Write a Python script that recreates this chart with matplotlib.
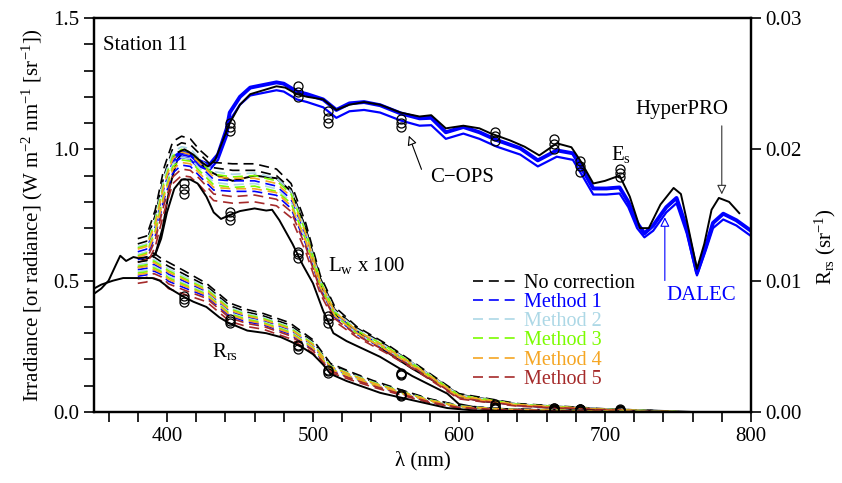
import matplotlib
matplotlib.use("Agg")
import matplotlib.pyplot as plt
from matplotlib.ticker import MultipleLocator

plt.rcParams['font.family'] = ['Liberation Serif', 'DejaVu Serif']
plt.rcParams['mathtext.fontset'] = 'custom'
plt.rcParams['mathtext.rm'] = 'Liberation Serif'
plt.rcParams['mathtext.it'] = 'Liberation Serif:italic'
plt.rcParams['mathtext.default'] = 'rm'

# ---- Es (W m-2 nm-1) ----
hyper_es_wl = [408, 412, 418, 424, 428, 433, 438, 443, 450, 457, 466, 475, 481, 489, 496,
               507, 516, 525, 535, 546, 560, 573, 581, 591, 603, 614, 622, 635, 645, 655,
               667, 677, 683, 692, 700, 710, 717, 724, 730, 738, 747, 752, 756, 763, 768,
               773, 778, 785, 792]
hyper_es = [0.99, 1.0, 0.98, 0.95, 0.935, 0.96, 1.03, 1.10, 1.17, 1.21, 1.225, 1.24, 1.235, 1.21, 1.20,
            1.19, 1.15, 1.17, 1.18, 1.17, 1.14, 1.125, 1.13, 1.08, 1.09, 1.08, 1.06, 1.034, 1.01, 0.977,
            1.023, 1.008, 0.958, 0.87, 0.88, 0.90, 0.82, 0.70, 0.70, 0.79, 0.853, 0.83, 0.73, 0.545, 0.64,
            0.77, 0.815, 0.80, 0.757]

dalec_es_wl = [405, 410, 415, 420, 429, 435, 441, 443, 450, 457, 466, 475, 480, 489, 496,
               507, 516, 525, 535, 546, 560, 573, 581, 591, 603, 614, 626, 642, 654, 667,
               678, 685, 692, 701, 710, 716, 722, 727, 733, 742, 749, 756, 763, 769, 774,
               781, 790, 800]
dalec_es_a = [0.97, 0.99, 0.985, 0.96, 0.94, 0.98, 1.08, 1.14, 1.20, 1.235, 1.245, 1.255, 1.25, 1.22, 1.21,
              1.19, 1.15, 1.175, 1.18, 1.168, 1.137, 1.118, 1.12, 1.065, 1.085, 1.065, 1.035, 1.004, 0.958, 0.996,
              0.985, 0.92, 0.851, 0.851, 0.855, 0.80, 0.72, 0.68, 0.71, 0.78, 0.815, 0.70, 0.53, 0.63, 0.72,
              0.755, 0.73, 0.69]
dalec_es_b = [0.95, 0.97, 0.965, 0.94, 0.92, 0.96, 1.05, 1.11, 1.17, 1.205, 1.215, 1.225, 1.22, 1.19, 1.18,
              1.16, 1.12, 1.145, 1.15, 1.14, 1.11, 1.09, 1.092, 1.04, 1.06, 1.04, 1.01, 0.98, 0.935, 0.972,
              0.96, 0.895, 0.828, 0.828, 0.832, 0.78, 0.70, 0.665, 0.69, 0.76, 0.795, 0.68, 0.52, 0.615, 0.70,
              0.733, 0.71, 0.67]

# ---- Lw x 100, solid black lines ----
lw_black1_wl = [350, 355, 360, 365, 368, 372, 377, 385, 392, 397, 402, 407, 411, 416, 422,
                428, 435, 445, 460, 475, 485, 495, 503, 510, 517, 525, 546, 568, 590, 601,
                614, 640, 660, 705, 740, 760]
lw_black1 = [0.45, 0.47, 0.50, 0.56, 0.595, 0.575, 0.59, 0.58, 0.60, 0.70, 0.86, 0.96, 0.99, 0.985, 0.95,
             0.92, 0.90, 0.88, 0.90, 0.89, 0.84, 0.70, 0.52, 0.42, 0.36, 0.33, 0.245, 0.165, 0.095, 0.06,
             0.042, 0.028, 0.017, 0.01, 0.004, 0.0]
lw_black2_wl = [392, 396, 400, 405, 410, 416, 421, 427, 432, 437, 443, 450, 460, 468, 472,
                477, 486, 493, 500, 507, 514, 523, 546, 568, 592, 600, 614, 650, 700, 750]
lw_black2 = [0.60, 0.66, 0.76, 0.85, 0.885, 0.885, 0.87, 0.82, 0.76, 0.735, 0.75, 0.765, 0.775, 0.767, 0.77,
             0.73, 0.64, 0.56, 0.49, 0.385, 0.30, 0.27, 0.21, 0.137, 0.07, 0.03, 0.015, 0.008, 0.004, 0.0]

# ---- Lw x 100, DALEC with corrections (two lines per method) ----
lw_wl = [380, 386, 392, 398, 404, 410, 416, 422, 432, 445, 460, 475, 485, 495, 505, 515, 530, 550, 570, 600, 640, 700, 750]
lw_nocorr = [[0.66, 0.67, 0.77, 0.93, 1.03, 1.05, 1.04, 1.00, 0.95, 0.945, 0.945, 0.925, 0.87, 0.72, 0.52, 0.40, 0.325, 0.26, 0.185, 0.07, 0.032, 0.012, 0.002],
             [0.64, 0.65, 0.75, 0.90, 1.005, 1.025, 1.018, 0.985, 0.93, 0.92, 0.92, 0.90, 0.85, 0.70, 0.51, 0.39, 0.32, 0.255, 0.18, 0.067, 0.03, 0.011, 0.002]]
lw_m1 = [[0.61, 0.62, 0.705, 0.855, 0.955, 0.98, 0.972, 0.94, 0.885, 0.88, 0.88, 0.86, 0.81, 0.67, 0.49, 0.375, 0.305, 0.245, 0.174, 0.061, 0.027, 0.01, 0.001],
         [0.58, 0.59, 0.67, 0.81, 0.91, 0.94, 0.935, 0.90, 0.845, 0.84, 0.84, 0.825, 0.775, 0.64, 0.47, 0.36, 0.296, 0.235, 0.167, 0.056, 0.025, 0.008, 0.001]]
lw_m2 = [[0.63, 0.64, 0.735, 0.89, 0.99, 1.01, 1.003, 0.965, 0.915, 0.905, 0.91, 0.89, 0.84, 0.69, 0.50, 0.385, 0.315, 0.25, 0.18, 0.065, 0.03, 0.011, 0.002],
         [0.60, 0.61, 0.695, 0.84, 0.945, 0.97, 0.963, 0.93, 0.875, 0.865, 0.87, 0.85, 0.80, 0.66, 0.485, 0.37, 0.30, 0.24, 0.172, 0.059, 0.027, 0.009, 0.001]]
lw_m3 = [[0.625, 0.635, 0.725, 0.875, 0.975, 1.0, 0.99, 0.955, 0.905, 0.895, 0.90, 0.88, 0.83, 0.685, 0.50, 0.38, 0.31, 0.25, 0.177, 0.064, 0.029, 0.01, 0.001],
         [0.595, 0.605, 0.69, 0.83, 0.935, 0.96, 0.955, 0.92, 0.865, 0.855, 0.86, 0.84, 0.795, 0.655, 0.48, 0.368, 0.30, 0.24, 0.17, 0.058, 0.026, 0.009, 0.001]]
lw_m4 = [[0.62, 0.63, 0.715, 0.865, 0.965, 0.99, 0.98, 0.95, 0.895, 0.89, 0.89, 0.87, 0.82, 0.68, 0.495, 0.38, 0.31, 0.245, 0.175, 0.062, 0.028, 0.01, 0.001],
         [0.59, 0.60, 0.68, 0.82, 0.925, 0.95, 0.945, 0.91, 0.855, 0.85, 0.85, 0.835, 0.785, 0.65, 0.475, 0.365, 0.30, 0.237, 0.169, 0.057, 0.026, 0.009, 0.001]]
lw_m5 = [[0.57, 0.58, 0.655, 0.79, 0.895, 0.925, 0.92, 0.89, 0.83, 0.82, 0.826, 0.81, 0.763, 0.63, 0.463, 0.355, 0.292, 0.231, 0.165, 0.054, 0.024, 0.008, 0.0],
         [0.55, 0.56, 0.63, 0.76, 0.87, 0.90, 0.895, 0.865, 0.805, 0.795, 0.80, 0.785, 0.74, 0.61, 0.45, 0.345, 0.285, 0.225, 0.16, 0.05, 0.022, 0.007, 0.0]]

# ---- Rrs (sr-1) ----
rrs_black_wl = [350, 355, 363, 370, 380, 390, 395, 402, 411, 418, 427, 436, 442, 455, 468,
                478, 486, 493, 500, 507, 512, 523, 546, 560, 580, 592, 610, 650, 700, 750]
rrs_black = [0.0094, 0.0097, 0.0100, 0.0102, 0.0102, 0.0102, 0.0100, 0.0094, 0.0088, 0.0084, 0.0080, 0.0072, 0.0068, 0.0062, 0.0060,
             0.0057, 0.0053, 0.0049, 0.0044, 0.0036, 0.0029, 0.00236, 0.00146, 0.0011, 0.0006, 0.0003, 0.00012, 0.00006, 0.00002, 0.0]

rrs_wl = [380, 386, 391, 396, 401, 411, 427, 443, 455, 466, 484, 500, 512, 527, 541, 560, 580, 600, 630, 680, 750]
rrs_nocorr = [[0.0117, 0.0118, 0.0121, 0.0117, 0.0114, 0.0108, 0.0098, 0.0083, 0.0078, 0.0075, 0.0068, 0.0055, 0.0037, 0.0030, 0.0024, 0.0017, 0.0010, 0.0005, 0.00024, 0.00012, 0.0],
              [0.01142, 0.01152, 0.01182, 0.01144, 0.0111, 0.01054, 0.0096, 0.0081, 0.0076, 0.00732, 0.00662, 0.00536, 0.0036, 0.00292, 0.00232, 0.00164, 0.00096, 0.00048, 0.00022, 0.00011, 0.0]]
rrs_m1 = [[0.01084, 0.01094, 0.01124, 0.01094, 0.0105, 0.0100, 0.00916, 0.00766, 0.00722, 0.00696, 0.00626, 0.00504, 0.00338, 0.00272, 0.00218, 0.00152, 0.00086, 0.0004, 0.0002, 0.0001, 0.0],
          [0.01034, 0.01044, 0.01074, 0.01048, 0.00996, 0.0095, 0.0088, 0.0073, 0.00686, 0.00664, 0.00594, 0.00478, 0.0032, 0.00256, 0.00204, 0.00142, 0.00078, 0.00036, 0.00016, 0.00008, 0.0]]
rrs_m2 = [[0.01122, 0.01132, 0.01162, 0.01128, 0.0109, 0.01036, 0.00946, 0.00796, 0.00748, 0.0072, 0.0065, 0.00526, 0.00352, 0.00286, 0.00228, 0.0016, 0.00092, 0.00046, 0.00022, 0.0001, 0.0],
          [0.0107, 0.0108, 0.0111, 0.0108, 0.01034, 0.00984, 0.00906, 0.00756, 0.00712, 0.00686, 0.00616, 0.00496, 0.00332, 0.00268, 0.00214, 0.00148, 0.00084, 0.0004, 0.00018, 0.00008, 0.0]]
rrs_m3 = [[0.0111, 0.0112, 0.0115, 0.01116, 0.01076, 0.01022, 0.00936, 0.00786, 0.00738, 0.00712, 0.00642, 0.00518, 0.00348, 0.0028, 0.00224, 0.00158, 0.0009, 0.00044, 0.0002, 0.0001, 0.0],
          [0.01058, 0.01068, 0.01098, 0.0107, 0.01022, 0.00974, 0.00898, 0.00748, 0.00704, 0.0068, 0.0061, 0.0049, 0.00328, 0.00264, 0.0021, 0.00146, 0.00082, 0.00038, 0.00018, 0.00008, 0.0]]
rrs_m4 = [[0.01098, 0.01108, 0.01138, 0.01106, 0.01064, 0.01012, 0.00926, 0.00776, 0.0073, 0.00704, 0.00634, 0.00512, 0.00344, 0.00278, 0.0022, 0.00154, 0.00088, 0.00042, 0.0002, 0.0001, 0.0],
          [0.01046, 0.01056, 0.01086, 0.0106, 0.0101, 0.00964, 0.0089, 0.0074, 0.00696, 0.00672, 0.00602, 0.00486, 0.00324, 0.00262, 0.00208, 0.00144, 0.0008, 0.00036, 0.00018, 0.00008, 0.0]]
rrs_m5 = [[0.01014, 0.01024, 0.01054, 0.0103, 0.00976, 0.00932, 0.00866, 0.00716, 0.00674, 0.00652, 0.00582, 0.00468, 0.00312, 0.0025, 0.0020, 0.00138, 0.00076, 0.00034, 0.00016, 0.00006, 0.0],
          [0.0098, 0.0099, 0.0102, 0.0100, 0.0094, 0.0090, 0.0084, 0.0069, 0.0065, 0.0063, 0.0056, 0.0045, 0.0030, 0.0024, 0.0019, 0.0013, 0.0007, 0.0003, 0.00014, 0.00006, 0.0]]

# ---- C-OPS (three casts) ----
cops_wl = [412, 443, 490, 510, 560, 625, 665, 683, 710]
cops_es = [[1.07, 1.20, 1.10, 1.085, 1.03, 1.00, 0.915, 0.895],
           [1.085, 1.22, 1.12, 1.10, 1.05, 1.02, 0.935, 0.91],
           [1.10, 1.24, 1.145, 1.115, 1.065, 1.04, 0.955, 0.925]]
cops_lw = [[0.83, 0.73, 0.585, 0.34, 0.14, 0.02, 0.012, 0.010, 0.006],
           [0.85, 0.745, 0.60, 0.355, 0.145, 0.025, 0.014, 0.012, 0.008],
           [0.87, 0.76, 0.61, 0.365, 0.15, 0.03, 0.016, 0.013, 0.010]]
cops_rrs = [[0.0084, 0.0068, 0.0048, 0.0030, 0.0012, 0.00024, 0.0001, 0.0001, 0.00006],
            [0.0086, 0.0069, 0.0050, 0.0031, 0.0013, 0.00028, 0.00012, 0.00011, 0.00007],
            [0.0088, 0.0071, 0.0051, 0.0032, 0.0014, 0.00032, 0.00014, 0.00012, 0.00008]]

methods = ["No correction", "Method 1", "Method 2", "Method 3", "Method 4", "Method 5"]
method_colors = ["black", "#0000FF", "#ADD8E6", "#7CFC00", "#F5A623", "#A52A2A"]
lw_sets = [lw_nocorr, lw_m1, lw_m2, lw_m3, lw_m4, lw_m5]
rrs_sets = [rrs_nocorr, rrs_m1, rrs_m2, rrs_m3, rrs_m4, rrs_m5]

fig = plt.figure(figsize=(8.42, 4.83), dpi=100)
ax = fig.add_axes([0.1116, 0.147, 0.7803, 0.8157])
ax2 = ax.twinx()

dash = (0, (6, 3.5))

# Es
ax.plot(dalec_es_wl, dalec_es_b, color="#0000FF", lw=1.6, zorder=2)
ax.plot(dalec_es_wl, dalec_es_a, color="#0000FF", lw=2.8, zorder=2)
ax.plot(hyper_es_wl, hyper_es, color="black", lw=1.4, zorder=3)

# Lw x 100
handles = []
for name, c, lines in zip(methods, method_colors, lw_sets):
    for i, y in enumerate(lines):
        h, = ax.plot(lw_wl, y, color=c, ls=dash, lw=1.2, zorder=2)
        if i == 0:
            handles.append(h)
ax.plot(lw_black1_wl, lw_black1, color="black", lw=1.4, zorder=1.5)
ax.plot(lw_black2_wl, lw_black2, color="black", lw=1.4, zorder=3)

for k in range(3):
    ax.plot(cops_wl[1:], cops_es[k], ls="none", marker="o", ms=6.5, mfc="none",
            mec="black", mew=0.9, zorder=4)
    ax.plot(cops_wl, cops_lw[k], ls="none", marker="o", ms=6.5, mfc="none",
            mec="black", mew=0.9, zorder=4)

# Rrs on the right axis
for c, lines in zip(method_colors, rrs_sets):
    for y in lines:
        ax2.plot(rrs_wl, y, color=c, ls=dash, lw=1.2, zorder=2)
ax2.plot(rrs_black_wl, rrs_black, color="black", lw=1.4, zorder=3)
for k in range(3):
    ax2.plot(cops_wl, cops_rrs[k], ls="none", marker="o", ms=6.5, mfc="none",
             mec="black", mew=0.9, zorder=4)

ax.set_xlim(350, 800)
ax.set_ylim(0, 1.5)
ax2.set_ylim(0, 0.03)

ax.xaxis.set_major_locator(MultipleLocator(100))
ax.xaxis.set_minor_locator(MultipleLocator(20))
ax.yaxis.set_major_locator(MultipleLocator(0.5))
ax.yaxis.set_minor_locator(MultipleLocator(0.1))
ax2.yaxis.set_major_locator(MultipleLocator(0.01))
ax.yaxis.set_major_formatter(plt.FormatStrFormatter("%.1f"))
ax2.yaxis.set_major_formatter(plt.FormatStrFormatter("%.2f"))

ax.tick_params(which="both", direction="out", length=7, width=1.2, labelsize=15,
               top=False, right=False)
ax2.tick_params(which="both", direction="out", length=7, width=1.2, labelsize=15)
for sp in list(ax.spines.values()) + list(ax2.spines.values()):
    sp.set_linewidth(1.6)

ax.set_xlabel("λ (nm)", fontsize=15, labelpad=4)
ax.set_ylabel(r"Irradiance [or radiance] (W m$^{-2}$ nm$^{-1}$ [sr$^{-1}$])", fontsize=15, labelpad=6)
ax2.set_ylabel(r"R$_{rs}$ (sr$^{-1}$)", fontsize=15)
ax2.yaxis.set_label_coords(1.094, 0.42)

# annotations
ax.text(356, 1.397, "Station 11", fontsize=15, ha="left", va="center")
ax.text(602, 0.894, "C\u2212OPS", fontsize=15, ha="center", va="center")
ax.annotate("", xy=(565, 1.062), xytext=(575, 0.914),
            arrowprops=dict(arrowstyle="-|>", fc="white", ec="black", lw=0.8, mutation_scale=14))
ax.text(711, 0.98, r"E$_{s}$", fontsize=15, ha="center", va="center")
ax.text(753, 1.15, "HyperPRO", fontsize=15, ha="center", va="center")
ax.annotate("", xy=(780, 0.818), xytext=(780, 1.10),
            arrowprops=dict(arrowstyle="-|>", fc="white", ec="#333333", lw=0.8, mutation_scale=14))
ax.text(766, 0.445, "DALEC", fontsize=15, ha="center", va="center", color="#0000FF")
ax.annotate("", xy=(741, 0.752), xytext=(741, 0.49),
            arrowprops=dict(arrowstyle="-|>", fc="white", ec="#0000FF", lw=0.8, mutation_scale=14))
ax.text(537, 0.556, r"L$_{w}$ x 100", fontsize=15, ha="center", va="center")
ax.text(440, 0.232, r"R$_{rs}$", fontsize=15, ha="center", va="center")

leg = ax2.legend(handles, methods, loc="upper left", bbox_to_anchor=(0.577, 0.35),
                 frameon=False, fontsize=14.5, handlelength=2.1, handletextpad=0.45,
                 labelspacing=0.0, borderpad=0, borderaxespad=0)
for t, c in zip(leg.get_texts(), method_colors):
    t.set_color(c)

fig.savefig("out.png", dpi=100)
